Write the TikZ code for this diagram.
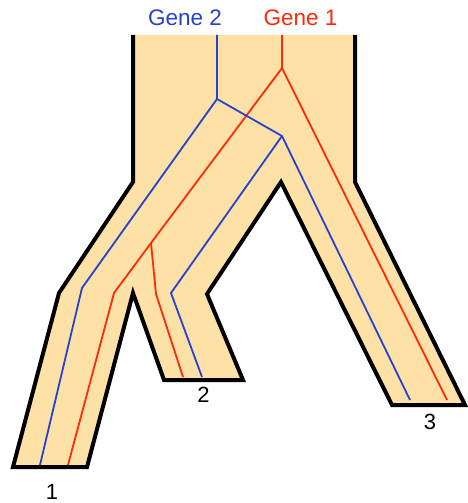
\documentclass[tikz,border=0pt]{standalone}
\usepackage{fontspec}
\setmainfont{Liberation Sans}
\definecolor{speciesfill}{RGB}{253,225,167}
\definecolor{geneblue}{RGB}{38,66,206}
\definecolor{genered}{RGB}{255,42,10}
\begin{document}
\begin{tikzpicture}[x=1pt,y=-1pt,
  outline/.style={line width=4pt,black},
  geneone/.style={line width=1.8pt,genered,line join=round},
  genetwo/.style={line width=1.8pt,geneblue,line join=round},
  genelabel/.style={font=\fontsize{22.5}{24}\selectfont,inner sep=0pt,anchor=center},
  tiplabel/.style={font=\fontsize{22}{24}\selectfont,inner sep=0pt,anchor=center}]
\useasboundingbox (0,0) rectangle (467,503);

% species tree: filled body, open at the top
\fill[speciesfill] (133,35) -- (133,182) -- (59,293) -- (13,467) -- (87,467)
  -- (133,293) -- (164,380) -- (243,380) -- (207,294) -- (281,182)
  -- (392,405) -- (465,405) -- (355,182) -- (355,35) -- cycle;
\draw[outline] (133,35) -- (133,182) -- (59,293) -- (13,467) -- (87,467)
  -- (133,293) -- (164,380) -- (243,380) -- (207,294) -- (281,182)
  -- (392,405) -- (465,405) -- (355,182) -- (355,35);

% gene 1 tree
\coordinate (r0) at (282,35);
\coordinate (rroot) at (282,68);
\coordinate (rsplit) at (151,243);
\coordinate (rbend1) at (114,293);
\coordinate (rtip1) at (68,465);
\coordinate (rbend2) at (156,294);
\coordinate (rtip2) at (183,377);
\coordinate (rtip3) at (447,400);
\draw[geneone] (r0) -- (rroot) -- (rtip3);
\draw[geneone] (rroot) -- (rsplit) -- (rbend1) -- (rtip1);
\draw[geneone] (rsplit) -- (rbend2) -- (rtip2);

% gene 2 tree
\coordinate (b0) at (217,35);
\coordinate (broot) at (217,99);
\coordinate (bbend1) at (82,288);
\coordinate (btip1) at (40,465);
\coordinate (bsplit) at (282,136);
\coordinate (bbend2) at (171,293);
\coordinate (btip2) at (202,377);
\coordinate (btip3) at (410,400);
\draw[genetwo] (b0) -- (broot) -- (bbend1) -- (btip1);
\draw[genetwo] (broot) -- (bsplit) -- (btip3);
\draw[genetwo] (bsplit) -- (bbend2) -- (btip2);

% labels
\node[genelabel,text=geneblue] (g2) at (185,18) {Gene 2};
\node[genelabel,text=genered] (g1) at (300.5,18) {Gene 1};
\node[tiplabel] (t1) at (52,492) {1};
\node[tiplabel] (t2) at (203.5,394.5) {2};
\node[tiplabel] (t3) at (430,421.5) {3};
\end{tikzpicture}
\end{document}
